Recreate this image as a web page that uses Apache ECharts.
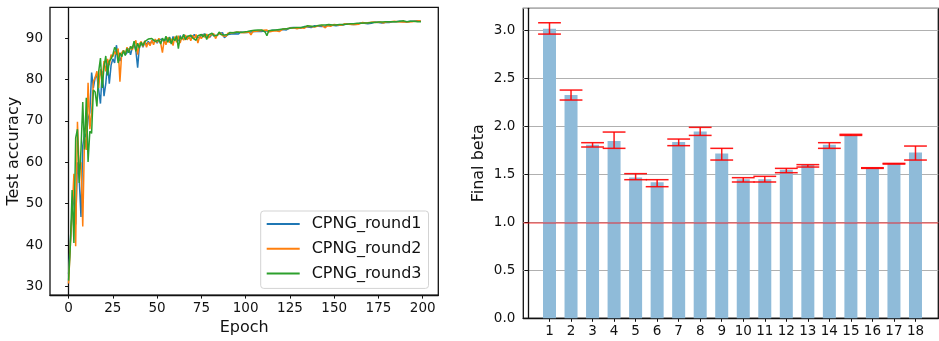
<!DOCTYPE html>
<html>
<head>
<meta charset="utf-8">
<script src="https://cdn.jsdelivr.net/npm/echarts@6.0.0/dist/echarts.min.js"></script>
<style>
html,body{margin:0;padding:0;background:#fff;}
#chart{width:939px;height:341px;}
</style>
</head>
<body>
<div id="chart"></div>
<script>
// ---- Left panel: test accuracy per epoch ----
const seriesNames = ['CPNG_round1', 'CPNG_round2', 'CPNG_round3'];
const epochTicks = [0, 25, 50, 75, 100, 125, 150, 175, 200];
const accTicks = [30, 40, 50, 60, 70, 80, 90];

const round1 = [
33.0,41.0,48.0,52.5,45.0,60.0,56.0,46.8,64.0,67.0,
66.0,70.5,72.0,81.7,78.0,80.5,81.0,77.5,74.2,82.0,
76.0,79.0,84.0,79.0,83.5,85.0,84.0,88.3,85.5,84.5,
84.5,87.0,86.0,86.5,87.5,86.0,87.8,88.5,87.0,82.9,
88.2,88.8,87.8,89.0,88.5,89.2,88.6,89.3,89.0,89.5,
88.8,89.6,89.2,89.8,88.9,90.0,89.4,90.3,88.8,90.4,
89.6,90.2,89.3,90.6,89.8,90.9,90.0,90.5,89.9,90.7,
90.2,90.9,90.3,90.6,90.1,90.8,90.4,91.0,90.5,90.8,
90.3,91.1,90.6,91.0,90.7,91.2,90.8,91.3,90.1,89.8,
90.9,91.3,91.0,91.4,91.1,91.3,91.0,91.5,91.2,91.4,
91.6,91.4,91.7,91.5,91.8,91.6,91.9,91.7,91.9,91.6,
92.0,91.8,92.1,91.7,92.0,91.9,92.2,91.9,92.3,92.0,
92.2,92.1,92.4,92.0,92.3,92.5,92.3,92.6,92.4,92.5,
92.7,92.4,92.6,92.8,92.5,92.7,92.9,92.6,92.8,93.0,
92.7,92.9,93.0,92.8,93.1,92.9,93.0,93.2,92.9,93.1,
93.2,93.0,93.3,93.1,93.4,93.2,93.3,93.5,93.2,93.4,
93.5,93.3,93.6,93.4,93.5,93.7,93.4,93.6,93.7,93.5,
93.8,93.6,93.7,93.9,93.6,93.8,93.9,93.7,93.9,93.8,
94.0,93.8,93.9,94.0,93.8,94.0,93.9,94.1,93.9,94.0,
94.1,93.9,94.0,94.1,94.0,94.1,94.0,94.2,94.0,94.1
];
const round2 = [
30.7,40.0,48.0,57.2,39.7,69.8,58.0,60.0,44.5,66.0,
63.0,79.2,68.0,72.0,79.5,80.5,82.0,78.0,82.5,80.0,
84.5,82.0,85.0,83.5,86.0,85.5,86.8,86.0,87.5,79.5,
86.5,87.0,86.2,87.8,86.8,88.0,87.2,88.5,89.5,86.0,
88.6,89.2,88.0,89.4,87.8,89.0,88.2,89.5,88.4,89.8,
89.0,90.0,88.8,86.5,89.6,88.4,90.2,88.9,89.8,88.2,
90.4,89.0,90.6,88.8,90.3,89.5,90.8,89.6,90.5,89.4,
90.7,89.8,90.9,88.8,90.4,89.9,90.8,90.2,91.0,90.0,
90.7,90.3,91.1,89.9,90.8,90.4,91.2,90.6,91.0,90.5,
91.2,90.8,91.3,90.9,91.4,91.0,91.5,91.1,91.3,91.2,
91.4,91.0,91.5,90.8,91.6,91.3,91.7,91.4,91.8,91.5,
91.9,91.6,92.0,91.5,91.9,91.7,92.1,91.8,92.2,91.6,
92.0,92.2,91.9,92.3,92.1,92.4,92.2,92.5,92.6,92.3,
92.7,92.5,92.8,92.4,92.7,92.9,92.6,92.8,93.0,92.7,
92.9,93.0,92.6,93.1,92.9,92.5,93.0,93.2,92.9,93.1,
93.3,93.0,93.2,93.4,93.1,93.3,93.5,93.2,93.4,93.6,
93.3,93.5,93.3,93.7,93.4,93.6,93.8,93.5,93.7,93.4,
93.8,93.6,93.9,93.7,93.8,93.6,93.9,94.0,93.7,93.9,
94.0,93.8,94.0,93.9,94.1,93.8,94.0,94.1,93.9,94.1,
94.0,94.2,93.9,94.1,94.0,94.2,94.1,94.0,94.2,94.1
];
const round3 = [
31.4,40.0,53.3,40.5,65.9,68.0,55.0,63.0,74.6,63.1,
75.6,60.1,67.5,67.0,77.5,77.0,73.5,82.0,85.2,78.0,
83.0,85.7,81.0,84.5,85.0,86.0,87.8,87.2,84.0,86.5,
85.5,87.0,85.8,87.5,86.5,88.0,87.5,89.3,86.8,88.8,
87.6,89.0,88.2,89.2,89.6,89.8,90.0,89.9,89.5,89.2,
88.9,89.6,88.6,90.0,89.3,90.5,89.0,90.2,88.6,90.0,
89.4,90.6,87.5,90.3,89.8,90.9,89.6,90.4,90.0,90.7,
90.1,90.5,89.5,90.6,90.2,90.9,90.3,91.0,89.7,90.8,
90.5,91.2,90.6,91.0,90.7,91.5,90.9,91.3,90.8,91.2,
90.9,91.4,91.0,91.3,91.1,91.5,91.2,91.4,91.3,91.5,
91.5,91.6,91.4,91.8,91.5,91.9,91.6,92.0,91.7,92.0,
91.8,91.5,90.6,91.8,92.1,91.9,92.2,92.0,92.3,92.1,
92.4,92.2,92.5,92.3,92.6,92.4,92.7,92.5,92.7,92.6,
92.8,92.6,92.9,92.7,92.8,93.0,92.7,92.9,93.1,92.8,
93.0,93.1,92.9,93.2,93.0,93.2,93.1,93.3,93.1,93.2,
93.4,93.2,93.4,93.3,93.5,93.3,93.6,93.4,93.6,93.5,
93.7,93.5,93.7,93.6,93.8,93.6,93.8,93.7,93.9,93.7,
93.9,93.8,94.0,93.8,94.0,93.9,94.1,93.9,94.1,94.0,
94.1,94.0,94.2,94.0,94.1,94.0,94.2,94.1,94.0,94.2,
94.1,94.0,94.2,94.1,94.0,94.1,94.2,94.0,94.1,94.0
];

// ---- Right panel: final beta per layer ----
const layers = [1,2,3,4,5,6,7,8,9,10,11,12,13,14,15,16,17,18];
const betaMean = [3.02,2.33,1.81,1.85,1.47,1.42,1.84,1.95,1.72,1.45,1.45,1.55,1.60,1.81,1.91,1.57,1.62,1.73];
const betaLow  = [2.965,2.277,1.787,1.773,1.446,1.373,1.801,1.908,1.651,1.422,1.422,1.519,1.578,1.773,1.908,1.564,1.609,1.651];
const betaHigh = [3.083,2.381,1.832,1.943,1.509,1.446,1.870,1.992,1.773,1.467,1.481,1.564,1.603,1.832,1.919,1.571,1.616,1.797];
const betaTicks = [0, 0.5, 1.0, 1.5, 2.0, 2.5, 3.0];
const referenceBeta = 1.0;

const lineColors = ['#1f77b4', '#ff7f0e', '#2ca02c'];
const FONT = 'DejaVu Sans';
const tickFont = {fontFamily: FONT, fontSize: 13.5, color: '#111'};

const rounds = [round1, round2, round3];
const lineSeries = rounds.map((arr, i) => ({
  name: seriesNames[i],
  type: 'line',
  xAxisIndex: 0, yAxisIndex: 0,
  data: arr.map((v, e) => [e, v]),
  showSymbol: false,
  symbol: 'none',
  lineStyle: {width: 1.5, color: lineColors[i]},
  itemStyle: {color: lineColors[i]},
  z: 2 + i,
  animation: false
}));

const chart = echarts.init(document.getElementById('chart'), null, {renderer: 'canvas'});
chart.setOption({
  animation: false,
  backgroundColor: '#fff',
  grid: [
    {left: 50, top: 7.3, width: 388.3, height: 288.7, show: true, borderColor: '#111', borderWidth: 1.3, containLabel: false},
    {left: 523.3, top: 8.3, width: 415, height: 310, show: true, borderColor: '#111', borderWidth: 1.3, containLabel: false}
  ],
  legend: {
    data: seriesNames,
    orient: 'vertical',
    left: 260.7, top: 211,
    padding: [3, 7, 5, 6],
    itemGap: 4.7,
    itemWidth: 33, itemHeight: 2,
    icon: 'rect',
    borderColor: '#d3d3d3', borderWidth: 1, borderRadius: 3,
    backgroundColor: 'rgba(255,255,255,0.85)',
    textStyle: {fontFamily: FONT, fontSize: 16, color: '#111', lineHeight: 20, padding: [0, 0, 0, 7]}
  },
  xAxis: [
    {
      gridIndex: 0, type: 'value', min: -10.5, max: 208.8,
      axisLine: {show: true, lineStyle: {color: '#111', width: 1.3}},
      axisTick: {show: true, length: 3.5, lineStyle: {color: '#111'}, customValues: epochTicks},
      axisLabel: {...tickFont, margin: 6, customValues: epochTicks},
      splitLine: {show: false},
      name: 'Epoch', nameLocation: 'middle', nameGap: 22,
      nameTextStyle: {fontFamily: FONT, fontSize: 16, color: '#111'}
    },
    {
      gridIndex: 1, type: 'value', min: -0.217, max: 19.06,
      axisLine: {show: true, lineStyle: {color: '#111', width: 1.3}},
      axisTick: {show: true, length: 3.5, lineStyle: {color: '#111'}, customValues: layers},
      axisLabel: {...tickFont, margin: 6, customValues: layers},
      splitLine: {show: false}
    }
  ],
  yAxis: [
    {
      gridIndex: 0, type: 'value', min: 27.9, max: 97.47,
      axisLine: {show: true, lineStyle: {color: '#111', width: 1.3}},
      axisTick: {show: true, length: 3.5, lineStyle: {color: '#111'}, customValues: accTicks},
      axisLabel: {...tickFont, margin: 7, customValues: accTicks},
      splitLine: {show: false},
      name: 'Test accuracy', nameLocation: 'middle', nameGap: 27,
      nameTextStyle: {fontFamily: FONT, fontSize: 16, color: '#111'}
    },
    {
      gridIndex: 1, type: 'value', min: 0, max: 3.234, interval: 0.5,
      axisLine: {show: true, lineStyle: {color: '#111', width: 1.3}},
      axisTick: {show: true, length: 3.5, lineStyle: {color: '#111'}},
      axisLabel: {...tickFont, margin: 8, showMaxLabel: false, formatter: v => v.toFixed(1)},
      splitLine: {show: true, lineStyle: {color: '#b0b0b0', width: 1}},
      name: 'Final beta', nameLocation: 'middle', nameGap: 36,
      nameTextStyle: {fontFamily: FONT, fontSize: 16, color: '#111'}
    }
  ],
  series: [
    ...lineSeries,
    {
      type: 'bar',
      xAxisIndex: 1, yAxisIndex: 1,
      data: layers.map((l, i) => [l, betaMean[i]]),
      barWidth: 13,
      itemStyle: {color: '#8fbbd9'},
      markLine: {
        silent: true,
        symbol: ['none', 'none'],
        label: {show: false},
        lineStyle: {color: 'rgba(255,0,0,0.5)', width: 1.6, type: 'solid'},
        data: [{yAxis: referenceBeta}]
      },
      z: 2
    },
    {
      type: 'custom',
      xAxisIndex: 1, yAxisIndex: 1,
      data: layers.map((l, i) => [l, betaLow[i], betaHigh[i]]),
      encode: {x: 0, y: [1, 2]},
      renderItem: function (params, api) {
        const x = api.value(0), lo = api.value(1), hi = api.value(2);
        const cw = 0.53;
        const pLo = api.coord([x, lo]), pHi = api.coord([x, hi]);
        const loL = api.coord([x - cw, lo]), loR = api.coord([x + cw, lo]);
        const hiL = api.coord([x - cw, hi]), hiR = api.coord([x + cw, hi]);
        const st = {stroke: 'rgba(255,0,0,0.9)', lineWidth: 1.5};
        return {
          type: 'group',
          children: [
            {type: 'line', shape: {x1: pLo[0], y1: pLo[1], x2: pHi[0], y2: pHi[1]}, style: st},
            {type: 'line', shape: {x1: loL[0], y1: loL[1], x2: loR[0], y2: loR[1]}, style: st},
            {type: 'line', shape: {x1: hiL[0], y1: hiL[1], x2: hiR[0], y2: hiR[1]}, style: st}
          ]
        };
      },
      z: 5
    }
  ]
});
</script>
</body>
</html>
